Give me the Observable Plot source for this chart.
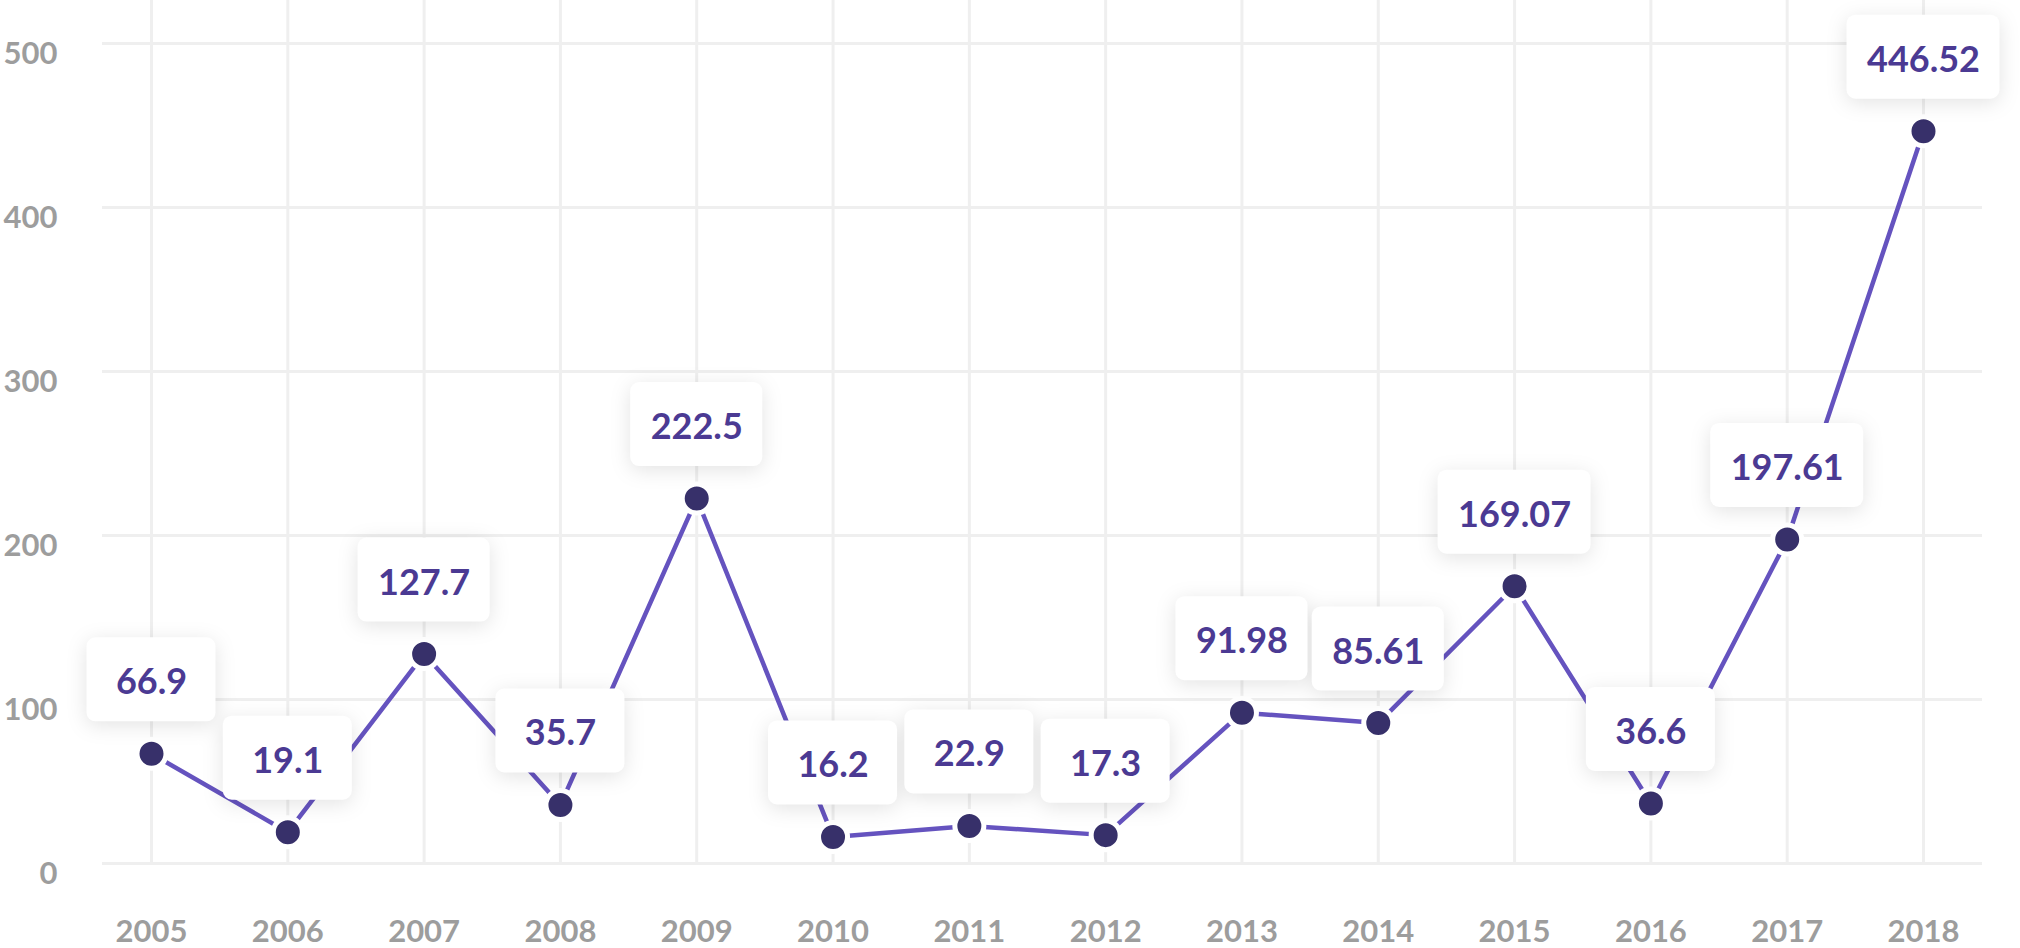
<!DOCTYPE html>
<html>
<head>
<meta charset="utf-8">
<script src="https://cdn.jsdelivr.net/npm/d3@7"></script>
<script src="https://cdn.jsdelivr.net/npm/@observablehq/plot@0.6"></script>
<style>
  html, body { margin: 0; padding: 0; background: #fff; }
  body { width: 2020px; height: 948px; overflow: hidden; font-family: Lato, sans-serif; }
</style>
</head>
<body>
<div id="chart"></div>
<script>
const years = [2005, 2006, 2007, 2008, 2009, 2010, 2011, 2012, 2013, 2014, 2015, 2016, 2017, 2018];
const values = [66.9, 19.1, 127.7, 35.7, 222.5, 16.2, 22.9, 17.3, 91.98, 85.61, 169.07, 36.6, 197.61, 446.52];
const labels = ["66.9", "19.1", "127.7", "35.7", "222.5", "16.2", "22.9", "17.3", "91.98", "85.61", "169.07", "36.6", "197.61", "446.52"];
const yTicks = [0, 100, 200, 300, 400, 500];

const data = years.map((year, i) => ({year, value: values[i], label: labels[i]}));

const chart = Plot.plot({
  width: 2020,
  height: 948,
  marginTop: 0,
  marginBottom: 85,
  marginLeft: 102,
  marginRight: 38,
  style: {fontFamily: "Lato, sans-serif", background: "#ffffff", overflow: "visible"},
  x: {domain: [2005, 2018], insetLeft: 49, insetRight: 59},
  y: {domain: [0, 500], insetTop: 43},
  marks: [
    Plot.gridX(years, {stroke: "#efefef", strokeOpacity: 1, strokeWidth: 3}),
    Plot.gridY(yTicks, {stroke: "#efefef", strokeOpacity: 1, strokeWidth: 3}),
    Plot.axisX(years, {tickSize: 0, tickPadding: 56, fontSize: 31, fontWeight: 700, fill: "#9d9d9d", tickFormat: d => String(d), label: null}),
    Plot.axisY(yTicks, {tickSize: 0, tickPadding: 45, fontSize: 31, fontWeight: 700, fill: "#9d9d9d", dy: 11, label: null}),
    Plot.line(data, {x: "year", y: "value", stroke: "#6553bf", strokeWidth: 4.5}),
    Plot.dot(data, {x: "year", y: "value", r: 14.5, fill: "#37306a", stroke: "#ffffff", strokeWidth: 5}),
    Plot.text(data, {x: "year", y: "value", text: "label", dy: -71, fontSize: 36, fontWeight: 700, fill: "#4b3a93"})
  ]
});

// Label boxes positioned through Plot's own scales
const sx = chart.scale("x"), sy = chart.scale("y");
const canvas = document.createElement("canvas");
const ctx = canvas.getContext("2d");
ctx.font = "700 36px Lato";
const svg = d3.select(chart);
let textGroup = null;
svg.selectAll("g").each(function() {
  const t = d3.select(this).selectAll("text");
  if (t.size() === data.length && this.textContent.includes("446.52")) textGroup = this;
});
const boxes = d3.create("svg:g").attr("style", "filter: drop-shadow(0px 4px 10px rgba(0,0,0,0.11))");
data.forEach(d => {
  const w = Math.max(ctx.measureText(d.label).width + 40, 129);
  const h = 84;
  const cx = sx.apply(d.year);
  const cy = sy.apply(d.value) - 74;
  boxes.append("rect")
    .attr("x", cx - w / 2).attr("y", cy - h / 2)
    .attr("width", w).attr("height", h)
    .attr("rx", 9).attr("fill", "#ffffff");
});
if (textGroup) textGroup.parentNode.insertBefore(boxes.node(), textGroup);
else chart.appendChild(boxes.node());

document.getElementById("chart").appendChild(chart);
</script>
</body>
</html>
